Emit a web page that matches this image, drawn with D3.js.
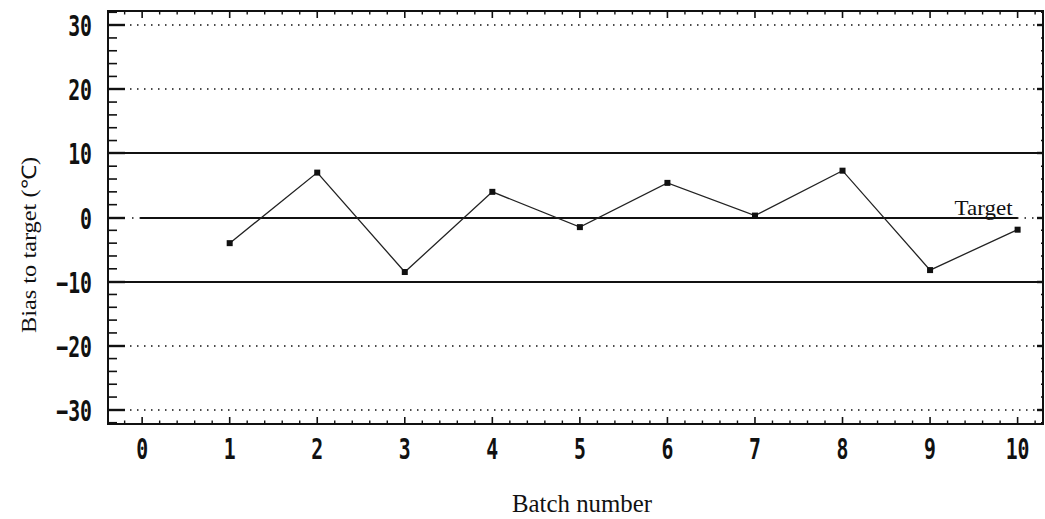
<!DOCTYPE html>
<html>
<head>
<meta charset="utf-8">
<script src="https://d3js.org/d3.v7.min.js"></script>
<style>
  body { margin: 0; background: #fff; }
  svg { display: block; }
</style>
</head>
<body>
<div id="chart"></div>
<script>
// data
const batches = [1, 2, 3, 4, 5, 6, 7, 8, 9, 10];
const bias = [-4.0, 7.0, -8.5, 4.0, -1.5, 5.4, 0.3, 7.3, -8.2, -1.9];
const xTickValues = [0, 1, 2, 3, 4, 5, 6, 7, 8, 9, 10];
const yTickValues = [-30, -20, -10, 0, 10, 20, 30];
const gridValues = [-30, -20, 20, 30];
const limitValues = [-10, 10];
const targetValue = 0;

const width = 1045, height = 519;
const ink = "#111";

const svg = d3.select("#chart").append("svg")
  .attr("width", width).attr("height", height);

// frame edges
const fLeft = 108, fRight = 1043, fTop = 11, fBottom = 424;

const x = d3.scaleLinear().domain([-0.39, 10.29]).range([fLeft, fRight]);
const y = d3.scaleLinear().domain([-32.2, 32.2]).range([fBottom, fTop]);
// snapped y for horizontal rules
const ys = v => Math.round(y(v));

// minor ticks
const xMinor = d3.range(-0.2, 10.3, 0.2).filter(v => Math.abs(v - Math.round(v)) > 0.01);
const yMinor = d3.range(-32, 33, 2).filter(v => v % 10 !== 0);

// dotted grid lines
svg.selectAll("line.grid").data(gridValues).enter().append("line")
  .attr("class", "grid")
  .attr("x1", fLeft + 22).attr("x2", fRight - 4)
  .attr("y1", d => ys(d)).attr("y2", d => ys(d))
  .attr("stroke", ink).attr("stroke-width", 1.5)
  .attr("stroke-dasharray", "1.5,5.5");

// control limits
svg.selectAll("line.limit").data(limitValues).enter().append("line")
  .attr("class", "limit")
  .attr("x1", fLeft).attr("x2", fRight)
  .attr("y1", d => ys(d)).attr("y2", d => ys(d))
  .attr("stroke", ink).attr("stroke-width", 2.2);

// target line: dotted outside batch range, solid inside
svg.append("line")
  .attr("x1", fLeft + 24).attr("x2", fRight)
  .attr("y1", ys(targetValue)).attr("y2", ys(targetValue))
  .attr("stroke", ink).attr("stroke-width", 1.5)
  .attr("stroke-dasharray", "1.5,6");
svg.append("line")
  .attr("x1", x(0) - 2).attr("x2", x(10))
  .attr("y1", ys(targetValue)).attr("y2", ys(targetValue))
  .attr("stroke", ink).attr("stroke-width", 2);

svg.append("text")
  .attr("x", x(10) - 5).attr("y", ys(targetValue) - 3)
  .attr("text-anchor", "end")
  .attr("font-family", "Liberation Serif, serif")
  .attr("font-size", 22)
  .attr("textLength", 58).attr("lengthAdjust", "spacingAndGlyphs")
  .attr("fill", ink)
  .text("Target");

// frame
svg.append("rect")
  .attr("x", fLeft).attr("y", fTop)
  .attr("width", fRight - fLeft).attr("height", fBottom - fTop)
  .attr("fill", "none").attr("stroke", ink).attr("stroke-width", 2);

// left axis ticks (inward)
svg.selectAll("line.ylmaj").data(yTickValues).enter().append("line")
  .attr("x1", fLeft).attr("x2", fLeft + 17)
  .attr("y1", d => ys(d)).attr("y2", d => ys(d))
  .attr("stroke", ink).attr("stroke-width", 2.4);
svg.selectAll("line.ylmin").data(yMinor).enter().append("line")
  .attr("x1", fLeft).attr("x2", fLeft + 9)
  .attr("y1", d => y(d)).attr("y2", d => y(d))
  .attr("stroke", ink).attr("stroke-width", 1.6);

// right axis ticks (inward)
svg.selectAll("line.yrmaj").data(yTickValues).enter().append("line")
  .attr("x1", fRight).attr("x2", fRight - 6)
  .attr("y1", d => ys(d)).attr("y2", d => ys(d))
  .attr("stroke", ink).attr("stroke-width", 2.4);
svg.selectAll("line.yrmin").data(yMinor).enter().append("line")
  .attr("x1", fRight).attr("x2", fRight - 2)
  .attr("y1", d => y(d)).attr("y2", d => y(d))
  .attr("stroke", ink).attr("stroke-width", 1.5);

// bottom and top ticks (inward)
[[fBottom, -1], [fTop, 1]].forEach(([base, dir]) => {
  svg.selectAll(null).data(xTickValues).enter().append("line")
    .attr("x1", d => x(d)).attr("x2", d => x(d))
    .attr("y1", base).attr("y2", base + dir * 7)
    .attr("stroke", ink).attr("stroke-width", 1.6);
  svg.selectAll(null).data(xMinor).enter().append("line")
    .attr("x1", d => x(d)).attr("x2", d => x(d))
    .attr("y1", base).attr("y2", base + dir * 3.5)
    .attr("stroke", ink).attr("stroke-width", 1.4);
});

// tick labels
const monoFont = "DejaVu Sans Mono, monospace";
svg.selectAll("text.ylab").data(yTickValues).enter().append("text")
  .attr("transform", d => `translate(${fLeft - 16},${y(d) + 11}) scale(0.9,1.3)`)
  .attr("text-anchor", "end")
  .attr("font-family", monoFont).attr("font-weight", "bold")
  .attr("font-size", 22)
  .attr("fill", ink)
  .text(d => d < 0 ? "\u2212" + Math.abs(d) : d);

svg.selectAll("text.xlab").data(xTickValues).enter().append("text")
  .attr("transform", d => `translate(${x(d)},${fBottom + 35}) scale(0.9,1.3)`)
  .attr("text-anchor", "middle")
  .attr("font-family", monoFont).attr("font-weight", "bold")
  .attr("font-size", 22)
  .attr("fill", ink)
  .text(d => d);

// axis titles
svg.append("text")
  .attr("x", 582).attr("y", 512)
  .attr("text-anchor", "middle")
  .attr("font-family", "Liberation Serif, serif")
  .attr("font-size", 25)
  .attr("textLength", 140).attr("lengthAdjust", "spacingAndGlyphs")
  .attr("fill", ink)
  .text("Batch number");

svg.append("text")
  .attr("transform", `translate(36,245) rotate(-90)`)
  .attr("text-anchor", "middle")
  .attr("font-family", "Liberation Serif, serif")
  .attr("font-size", 20)
  .attr("textLength", 176).attr("lengthAdjust", "spacingAndGlyphs")
  .attr("fill", ink)
  .text("Bias to target (\u2103)");

// data line and markers
const pts = batches.map((b, i) => [b, bias[i]]);
svg.append("path")
  .datum(pts)
  .attr("d", d3.line().x(d => x(d[0])).y(d => y(d[1])))
  .attr("fill", "none")
  .attr("stroke", "#222").attr("stroke-width", 1.3);

svg.selectAll("rect.pt").data(pts).enter().append("rect")
  .attr("x", d => x(d[0]) - 3).attr("y", d => y(d[1]) - 3)
  .attr("width", 6).attr("height", 6)
  .attr("fill", ink);
</script>
</body>
</html>
